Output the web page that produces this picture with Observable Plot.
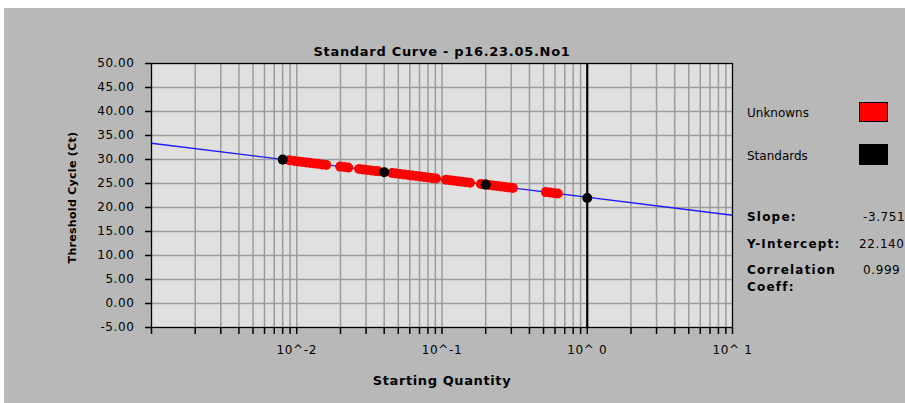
<!DOCTYPE html>
<html><head><meta charset="utf-8">
<script src="https://cdn.jsdelivr.net/npm/d3@7"></script>
<script src="https://cdn.jsdelivr.net/npm/@observablehq/plot@0.6"></script>
<style>
html,body{margin:0;padding:0;background:#fff;}
#wrap{position:relative;width:905px;height:403px;overflow:hidden;}
#bg{position:absolute;left:4px;top:8px;right:0;bottom:0;background:#b8b8b8;}
#chart{position:absolute;left:0;top:0;}
</style></head><body><div id="wrap"><div id="bg"></div><div id="chart"></div></div>
<script>
// Standards (5-fold dilution series)
const stdQuantity = [0.008, 0.04, 0.2, 1];
const stdCt = [29.98, 27.36, 24.77, 21.98];

// Unknowns
const unkQuantity = [
  0.00888, 0.00961, 0.01024, 0.01091, 0.01162, 0.01238, 0.01319, 0.01405, 0.01497, 0.01595,
  0.01991, 0.02121, 0.02259,
  0.02689, 0.02864, 0.03051, 0.03251, 0.03463, 0.03632,
  0.04533, 0.04829, 0.05144, 0.05480, 0.05838, 0.06220, 0.06626, 0.07059, 0.07520, 0.08012, 0.08535, 0.09093,
  0.1065, 0.1135, 0.1209, 0.1288, 0.1372, 0.1462, 0.1557,
  0.1854, 0.1975, 0.2104, 0.2241, 0.2388, 0.2544, 0.2710, 0.2887, 0.3076,
  0.5185, 0.5524, 0.5885, 0.6269
];
const unkCt = [
  29.84, 29.71, 29.60, 29.50, 29.40, 29.29, 29.19, 29.09, 28.98, 28.88,
  28.52, 28.42, 28.31,
  28.03, 27.93, 27.82, 27.72, 27.62, 27.54,
  27.18, 27.08, 26.97, 26.87, 26.77, 26.67, 26.56, 26.46, 26.36, 26.25, 26.15, 26.05,
  25.79, 25.69, 25.58, 25.48, 25.38, 25.27, 25.17,
  24.89, 24.78, 24.68, 24.58, 24.47, 24.37, 24.27, 24.16, 24.06,
  23.21, 23.11, 23.00, 22.90
];

// Regression results
const slope = -3.751;
const intercept = 22.140;
const slopeLabel = "-3.751";
const interceptLabel = "22.140";
const corrLabel = "0.999";

// Axes
const yTicks = [-5, 0, 5, 10, 15, 20, 25, 30, 35, 40, 45, 50];
const xMajorTicks = [0.01, 0.1, 1, 10];
const xTickLabels = ["10^-2", "10^-1", "10^ 0", "10^ 1"];
const xDecades = [0.001, 0.01, 0.1, 1];
const xGrid = [];
for (const d of xDecades) for (let m = 1; m <= 9; m++) xGrid.push(+(d * m).toPrecision(6));
xGrid.push(10);

const standards = stdQuantity.map((q, i) => ({q, ct: stdCt[i]}));
const unknowns = unkQuantity.map((q, i) => ({q, ct: unkCt[i]}));
const fitLine = [0.001, 10].map(q => ({q, ct: intercept + slope * Math.log10(q)}));
const xLabelRows = xMajorTicks.map((q, i) => ({q, label: xTickLabels[i]}));

const FONT = "DejaVu Sans";

const plot = Plot.plot({
  width: 905, height: 403,
  marginLeft: 151, marginRight: 173, marginTop: 63, marginBottom: 76,
  style: {background: "transparent", fontFamily: FONT, fontSize: "12px"},
  x: {type: "log", domain: [0.001, 10]},
  y: {domain: [-5, 50]},
  marks: [
    Plot.frame({fill: "#e0e0e0"}),
    Plot.ruleX(xGrid, {stroke: "#9c9c9c", strokeWidth: 1.5}),
    Plot.ruleY(yTicks, {stroke: "#9c9c9c", strokeWidth: 1.5}),
    Plot.ruleX([1], {stroke: "black", strokeWidth: 2.2}),
    Plot.line(fitLine, {x: "q", y: "ct", stroke: "#1a1aff", strokeWidth: 1.4}),
    Plot.dot(unknowns, {x: "q", y: "ct", r: 5, fill: "#ff0000"}),
    Plot.dot(standards, {x: "q", y: "ct", r: 5, fill: "black"}),
    Plot.frame({stroke: "black", strokeWidth: 1.2}),
    Plot.axisY({ticks: yTicks, tickFormat: d => d.toFixed(2), tickSize: 6, tickPadding: 11, strokeWidth: 1.5, label: null, fontSize: 12}),
    Plot.axisX({ticks: xGrid, tickFormat: () => "", tickSize: 7, strokeWidth: 1.5, label: null}),
    Plot.text(xLabelRows, {x: "q", text: "label", frameAnchor: "bottom", dy: 23, lineAnchor: "middle", fontSize: 12}),
    Plot.text(["Standard Curve - p16.23.05.No1"], {frameAnchor: "top", dy: -12, lineAnchor: "middle", fontWeight: "bold", fontSize: 13}),
    Plot.text(["Starting Quantity"], {frameAnchor: "bottom", dy: 53, lineAnchor: "middle", fontWeight: "bold", fontSize: 13}),
    Plot.text(["Threshold Cycle (Ct)"], {frameAnchor: "left", dx: -79, dy: 2, rotate: -90, textAnchor: "middle", lineAnchor: "middle", fontWeight: "bold", fontSize: 11})
  ]
});

document.getElementById("chart").appendChild(plot);

const svg = d3.select(plot);
svg.selectAll('g[aria-label="y-axis tick label"] text').style("letter-spacing", "0.6px");
svg.selectAll('g[aria-label="text"] text').each(function () {
  const t = this.textContent;
  if (t.startsWith("Standard Curve")) this.style.letterSpacing = "0.7px";
  else if (t === "Starting Quantity") this.style.letterSpacing = "0.6px";
  else if (t.startsWith("Threshold")) this.style.letterSpacing = "0.3px";
  else if (t.startsWith("10^")) this.style.letterSpacing = "0.6px";
});

// Legend
const leg = svg.append("g").attr("font-family", FONT).attr("font-size", 12).attr("fill", "black").attr("text-anchor", "start");
leg.append("text").attr("x", 747).attr("y", 113).attr("dy", "0.35em").text("Unknowns");
leg.append("text").attr("x", 747).attr("y", 156).attr("dy", "0.35em").text("Standards");
leg.append("rect").attr("x", 859.5).attr("y", 102.5).attr("width", 28).attr("height", 19).attr("fill", "#ff0000").attr("stroke", "black");
leg.append("rect").attr("x", 859.5).attr("y", 144.5).attr("width", 28).attr("height", 20).attr("fill", "black").attr("stroke", "black");

// Stats
const st = svg.append("g").attr("font-family", FONT).attr("font-size", 12).attr("fill", "black").attr("text-anchor", "start");
const bold = [["Slope:", 217], ["Y-Intercept:", 244], ["Correlation", 270], ["Coeff:", 287]];
for (const [t, y] of bold) st.append("text").attr("x", 747).attr("y", y).attr("dy", "0.35em").attr("font-weight", "bold").style("letter-spacing", "1.2px").text(t);
const vals = [[slopeLabel, 863, 217], [interceptLabel, 859, 244], [corrLabel, 863, 270]];
for (const [t, x, y] of vals) st.append("text").attr("x", x).attr("y", y).attr("dy", "0.35em").style("letter-spacing", "0.6px").text(t);
</script>
</body></html>
